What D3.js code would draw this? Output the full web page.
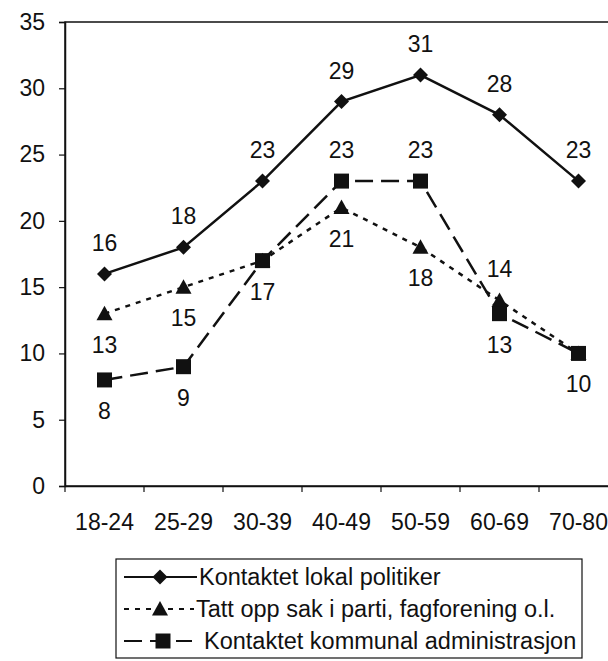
<!DOCTYPE html>
<html>
<head>
<meta charset="utf-8">
<script src="https://cdn.jsdelivr.net/npm/d3@7/dist/d3.min.js"></script>
<style>
  html, body { margin: 0; padding: 0; background: #fff; }
  svg { display: block; font-family: "Liberation Sans", Arial, sans-serif; }
</style>
</head>
<body>
<svg id="chart" width="608" height="661"></svg>
<script>
// Age groups on the x axis
const ageGroups = ["18-24", "25-29", "30-39", "40-49", "50-59", "60-69", "70-80"];

// Share (%) per age group for each kind of political contact
const lokalPolitiker = [16, 18, 23, 29, 31, 28, 23];
const partiFagforening = [13, 15, 17, 21, 18, 14, 10];
const kommunalAdmin = [8, 9, 17, 23, 23, 13, 10];

const seriesNames = [
  "Kontaktet lokal politiker",
  "Tatt opp sak i parti, fagforening o.l.",
  "Kontaktet kommunal administrasjon"
];

// Where each value label sits relative to its point ("" = not shown)
const labelSides = [
  ["above", "above", "above", "above", "above", "above", "above"],
  ["below", "below", "below", "below", "below", "above", ""],
  ["below", "below", "", "above", "above", "below", "below"]
];

const yTicks = [0, 5, 10, 15, 20, 25, 30, 35];

const svg = d3.select("#chart");
const ink = "#111";
const fontSize = 23;
const legendFont = 23.5;

const plot = { left: 65, right: 618, top: 22, bottom: 486 };

const x = d3.scaleBand().domain(ageGroups).range([plot.left, plot.right]);
const y = d3.scaleLinear().domain([0, 35]).range([plot.bottom, plot.top]);

// plot frame
svg.append("rect")
  .attr("x", plot.left).attr("y", plot.top)
  .attr("width", plot.right - plot.left).attr("height", plot.bottom - plot.top)
  .attr("fill", "none").attr("stroke", ink).attr("stroke-width", 1.5);

// y axis
const yAxis = svg.append("g")
  .attr("transform", `translate(${plot.left},0)`)
  .call(d3.axisLeft(y).tickValues(yTicks).tickSize(6).tickPadding(14));
yAxis.select(".domain").attr("stroke", ink).attr("stroke-width", 1.5);
yAxis.selectAll(".tick line").attr("stroke", ink).attr("stroke-width", 1.2);
yAxis.selectAll(".tick text")
  .attr("fill", ink).style("font-size", fontSize + "px")
  .style("font-family", "'Liberation Sans', Arial, sans-serif");

// x axis, ticks between categories
const xAxis = svg.append("g")
  .attr("transform", `translate(0,${plot.bottom})`)
  .call(d3.axisBottom(x).tickSize(0).tickPadding(28));
xAxis.select(".domain").attr("stroke", ink).attr("stroke-width", 1.5);
xAxis.selectAll(".tick text")
  .attr("fill", ink).style("font-size", fontSize + "px")
  .style("font-family", "'Liberation Sans', Arial, sans-serif");
xAxis.selectAll(".sep")
  .data(ageGroups)
  .enter().append("line")
  .attr("x1", d => x(d)).attr("x2", d => x(d))
  .attr("y1", 0).attr("y2", 6)
  .attr("stroke", ink).attr("stroke-width", 1.2);

const seriesData = [lokalPolitiker, partiFagforening, kommunalAdmin];
const dashes = [null, "5,6", "18,8"];

// marker shapes: diamond, triangle, square
const diamond = { draw(ctx) { const r = 7.5; ctx.moveTo(0, -r); ctx.lineTo(r, 0); ctx.lineTo(0, r); ctx.lineTo(-r, 0); ctx.closePath(); } };
const triangle = { draw(ctx) { ctx.moveTo(0, -8); ctx.lineTo(8, 6.5); ctx.lineTo(-8, 6.5); ctx.closePath(); } };
const square = { draw(ctx) { const h = 7.5; ctx.rect(-h, -h, 2 * h, 2 * h); } };
const symbols = [d3.symbol().type(diamond), d3.symbol().type(triangle), d3.symbol().type(square)];

const line = d3.line()
  .x((d, i) => x(ageGroups[i]) + x.bandwidth() / 2)
  .y(d => y(d));

seriesData.forEach((vals, s) => {
  const g = svg.append("g");
  g.append("path")
    .datum(vals)
    .attr("d", line)
    .attr("fill", "none")
    .attr("stroke", ink)
    .attr("stroke-width", 2.5)
    .attr("stroke-dasharray", dashes[s]);

  g.selectAll("path.mark")
    .data(vals)
    .enter().append("path")
    .attr("class", "mark")
    .attr("d", symbols[s])
    .attr("transform", (d, i) => `translate(${x(ageGroups[i]) + x.bandwidth() / 2},${y(d)})`)
    .attr("fill", ink);

  g.selectAll("text")
    .data(vals.map((v, i) => ({ v, i, side: labelSides[s][i] })).filter(d => d.side))
    .enter().append("text")
    .attr("x", d => x(ageGroups[d.i]) + x.bandwidth() / 2)
    .attr("y", d => y(d.v) + (d.side === "above" ? -31 : 31))
    .attr("text-anchor", "middle")
    .attr("dominant-baseline", "central")
    .attr("fill", ink)
    .style("font-size", fontSize + "px")
    .text(d => d.v);
});

// legend
const legend = svg.append("g");
legend.append("rect")
  .attr("x", 116).attr("y", 559).attr("width", 466).attr("height", 99)
  .attr("fill", "#fff").attr("stroke", ink).attr("stroke-width", 1.2);

const rowY = [577, 609, 641];
const textX = [199, 196, 204];
const markX = [160, 160, 163];
const lineEnd = [197, 194, 192];
seriesNames.forEach((name, s) => {
  legend.append("line")
    .attr("x1", 124).attr("x2", lineEnd[s])
    .attr("y1", rowY[s]).attr("y2", rowY[s])
    .attr("stroke", ink).attr("stroke-width", 2.2)
    .attr("stroke-dasharray", dashes[s]);
  legend.append("path")
    .attr("d", symbols[s])
    .attr("transform", `translate(${markX[s]},${rowY[s]})`)
    .attr("fill", ink);
  legend.append("text")
    .attr("x", textX[s]).attr("y", rowY[s])
    .attr("dominant-baseline", "central")
    .attr("fill", ink)
    .style("font-size", legendFont + "px")
    .text(name);
});
</script>
</body>
</html>
